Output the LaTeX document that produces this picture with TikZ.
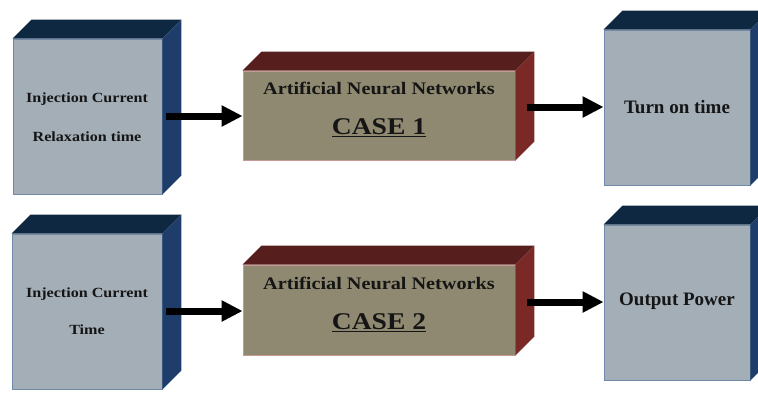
\documentclass[tikz,border=0pt]{standalone}
\usepackage{fontspec}
\setmainfont{Liberation Serif}
\newfontfamily\wideserif[FakeStretch=1.15]{Liberation Serif}
\usetikzlibrary{arrows.meta,calc}
\definecolor{bfront}{HTML}{A4AEB7}
\definecolor{bside}{HTML}{1E3D6B}
\definecolor{btop}{HTML}{0E2842}
\definecolor{bline}{HTML}{7189A8}
\definecolor{afront}{HTML}{8E8970}
\definecolor{aside}{HTML}{7B2927}
\definecolor{atop}{HTML}{561E1D}
\definecolor{aline}{HTML}{C49A92}
\definecolor{ink}{HTML}{151515}
\tikzset{
  bluebox/.style={draw=bline, fill=bfront, line width=0.8pt, inner sep=0pt},
  annbox/.style={draw=aline, fill=afront, line width=0.8pt, inner sep=0pt},
  lbl/.style={text=ink, font=\wideserif\bfseries\fontsize{14}{16}\selectfont, inner sep=0pt, anchor=center},
  annlbl/.style={text=ink, font=\wideserif\bfseries\fontsize{17.6}{20}\selectfont, inner sep=0pt, anchor=center},
  caselbl/.style={text=ink, font=\wideserif\bfseries\fontsize{24}{28}\selectfont, inner sep=0pt, anchor=center},
  outlbl/.style={text=ink, font=\bfseries\fontsize{19}{22}\selectfont, inner sep=0pt, anchor=center},
  flow/.style={line width=7pt, -{Triangle[length=21pt,width=20pt]}, black},
}
\newcommand\cubefaces[4]{% node, depth, top colour, side colour
  \fill[#3] (#1.north west) -- ++(#2,-#2) -- ($(#1.north east)+(#2,-#2)$) -- (#1.north east) -- cycle;
  \fill[#4] (#1.north east) -- ++(#2,-#2) -- ($(#1.south east)+(#2,-#2)$) -- (#1.south east) -- cycle;
}
\begin{document}
\begin{tikzpicture}[x=1pt,y=-1pt]
\useasboundingbox (0,0) rectangle (758,394);
\clip (0,0) rectangle (758,394);
\fill[white] (0,0) rectangle (758,394);
% row 1
\node[bluebox, minimum width=149pt, minimum height=155pt] (in1) at (87.5,116.5) {};
\cubefaces{in1}{19}{btop}{bside}
\node[annbox, minimum width=272pt, minimum height=89pt] (ann1) at (379,115.5) {};
\cubefaces{ann1}{19}{atop}{aside}
\node[bluebox, minimum width=146pt, minimum height=155pt] (out1) at (677,107.5) {};
\cubefaces{out1}{19}{btop}{bside}
% row 2
\node[bluebox, minimum width=150pt, minimum height=155pt] (in2) at (87,311.5) {};
\cubefaces{in2}{19}{btop}{bside}
\node[annbox, minimum width=272pt, minimum height=90pt] (ann2) at (379,310) {};
\cubefaces{ann2}{19}{atop}{aside}
\node[bluebox, minimum width=146pt, minimum height=155pt] (out2) at (677,302.5) {};
\cubefaces{out2}{19}{btop}{bside}
% labels
\node[lbl] (t1a) at (87,99) {Injection Current};
\node[lbl] (t1b) at (87,137) {Relaxation time};
\node[lbl] (t2a) at (87,294) {Injection Current};
\node[lbl] (t2b) at (87,330) {Time};
\node[annlbl] (a1) at (379,88) {Artificial Neural Networks};
\node[caselbl] (c1) at (379,128) {\underline{CASE 1}};
\node[annlbl] (a2) at (379,283) {Artificial Neural Networks};
\node[caselbl] (c2) at (379,323) {\underline{CASE 2}};
\node[outlbl] (o1) at (677,107) {Turn on time};
\node[outlbl] (o2) at (677,301) {Output Power};
% connectors
\draw[flow] ([xshift=4pt]in1.east |- 0,116) -- (ann1.west |- 0,116);
\draw[flow] ([xshift=12pt]ann1.east |- 0,107) -- (out1.west |- 0,107);
\draw[flow] ([xshift=4pt]in2.east |- 0,311) -- (ann2.west |- 0,311);
\draw[flow] ([xshift=12pt]ann2.east |- 0,302) -- (out2.west |- 0,302);
\end{tikzpicture}
\end{document}
